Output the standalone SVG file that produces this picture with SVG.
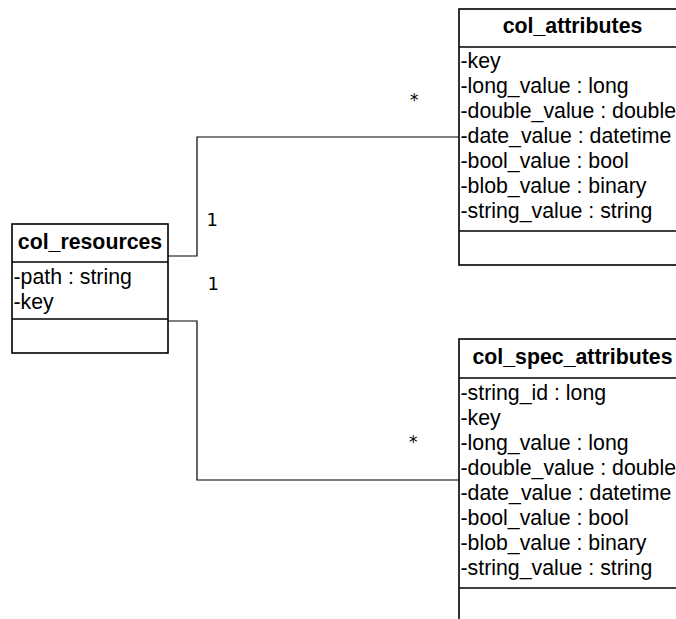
<svg xmlns="http://www.w3.org/2000/svg" width="676" height="619" viewBox="0 0 676 619">
  <style>
    .box { fill: #ffffff; stroke: #000000; stroke-width: 1.6; }
    .sep { stroke: #000000; stroke-width: 1.6; }
    .title { font-family: "Liberation Sans", Arial, sans-serif; font-size: 21.3px; font-weight: bold; text-anchor: middle; fill: #000000; }
    .attr { font-family: "Liberation Sans", Arial, sans-serif; font-size: 21.3px; fill: #000000; }
    .edge { fill: none; stroke: #000000; stroke-width: 1.2; }
    .mult { font-family: "DejaVu Sans", sans-serif; font-size: 18px; fill: #000000; }
    .star { font-family: "DejaVu Sans", sans-serif; font-size: 17px; fill: #000000; }
  </style>

  <!-- associations -->
  <g id="connectors">
    <polyline class="edge" points="168,256 197,256 197,137 459,137"/>
    <polyline class="edge" points="168,321 197,321 197,480 459,480"/>
    <text class="mult" x="206.5" y="226">1</text>
    <text class="mult" x="207.5" y="289.5">1</text>
    <text class="star" x="410" y="106">*</text>
    <text class="star" x="409" y="448">*</text>
  </g>

  <g id="col_resources">
    <rect class="box" x="12" y="224" width="156" height="129"/>
    <line class="sep" x1="12" y1="262" x2="168" y2="262"/>
    <line class="sep" x1="12" y1="319" x2="168" y2="319"/>
    <text class="title" x="90" y="249">col_resources</text>
    <text class="attr" x="13.5" y="284">-path : string</text>
    <text class="attr" x="13.5" y="309">-key</text>
  </g>

  <g id="col_attributes">
    <rect class="box" x="459" y="9" width="227" height="256"/>
    <line class="sep" x1="459" y1="47" x2="686" y2="47"/>
    <line class="sep" x1="459" y1="231" x2="686" y2="231"/>
    <text class="title" x="572.5" y="33">col_attributes</text>
    <text class="attr" x="460.5" y="68">-key</text>
    <text class="attr" x="460.5" y="93">-long_value : long</text>
    <text class="attr" x="460.5" y="118">-double_value : double</text>
    <text class="attr" x="460.5" y="143">-date_value : datetime</text>
    <text class="attr" x="460.5" y="168">-bool_value : bool</text>
    <text class="attr" x="460.5" y="193">-blob_value : binary</text>
    <text class="attr" x="460.5" y="218">-string_value : string</text>
  </g>

  <g id="col_spec_attributes">
    <rect class="box" x="459" y="339" width="227" height="300"/>
    <line class="sep" x1="459" y1="378" x2="686" y2="378"/>
    <line class="sep" x1="459" y1="588" x2="686" y2="588"/>
    <text class="title" x="572.5" y="364">col_spec_attributes</text>
    <text class="attr" x="460.5" y="400">-string_id : long</text>
    <text class="attr" x="460.5" y="425">-key</text>
    <text class="attr" x="460.5" y="450">-long_value : long</text>
    <text class="attr" x="460.5" y="475">-double_value : double</text>
    <text class="attr" x="460.5" y="500">-date_value : datetime</text>
    <text class="attr" x="460.5" y="525">-bool_value : bool</text>
    <text class="attr" x="460.5" y="550">-blob_value : binary</text>
    <text class="attr" x="460.5" y="575">-string_value : string</text>
  </g>
</svg>
